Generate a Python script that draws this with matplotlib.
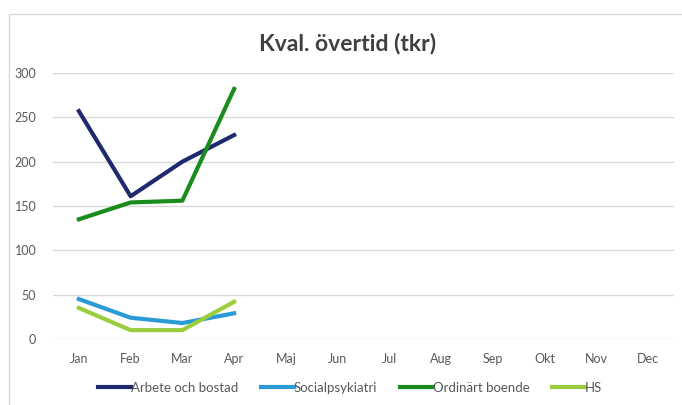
import matplotlib.pyplot as plt
from matplotlib.patches import Rectangle

months = ["Jan", "Feb", "Mar", "Apr", "Maj", "Jun", "Jul", "Aug", "Sep", "Okt", "Nov", "Dec"]
arbete = [257, 161, 200, 230]
social = [45, 24, 18, 29]
ordinart = [135, 154, 156, 282]
hs = [35, 10, 10, 42]

plt.rcParams['font.family'] = ['Lato', 'DejaVu Sans']

fig = plt.figure(figsize=(6.82, 4.05), dpi=100)
fig.patches.append(Rectangle((9 / 682, -0.01), 1.0, 1 - 14 / 405 + 0.01, transform=fig.transFigure,
                             fill=False, edgecolor="#d9d9d9", linewidth=1))
ax = fig.add_axes([53 / 682, 1 - 339 / 405, 621 / 682, 266 / 405])

x = range(12)
lw = 3.0
ax.plot(x[:4], arbete, color="#1f2a6e", linewidth=lw, label="Arbete och bostad")
ax.plot(x[:4], social, color="#2b9bd8", linewidth=lw, label="Socialpsykiatri")
ax.plot(x[:4], ordinart, color="#1a8c1e", linewidth=lw, label="Ordinärt boende")
ax.plot(x[:4], hs, color="#9acd3d", linewidth=lw, label="HS")

ax.set_xlim(-0.5, 11.5)
ax.set_ylim(0, 300)
ax.set_xticks(list(x))
ax.set_xticklabels(months)
ax.set_yticks(range(0, 301, 50))
ax.tick_params(length=0, labelsize=9, colors="#595959", pad=10)
ax.tick_params(axis="y", pad=12)
ax.grid(axis="y", color="#d9d9d9", linewidth=1)
ax.set_axisbelow(True)
for s in ax.spines.values():
    s.set_visible(False)

fig.text(348 / 682, 1 - 44 / 405, "Kval. övertid (tkr)", ha="center", va="center",
         fontsize=16.5, fontweight="bold", color="#404040")

ax.legend(loc="center", bbox_to_anchor=((350 - 53) / 621, (339 - 388) / 266), ncol=4, frameon=False,
          fontsize=9.5, labelcolor="#595959", handlelength=2.5, handletextpad=0.0, columnspacing=1.7)

plt.savefig("out.png", dpi=100)
plt.close()
